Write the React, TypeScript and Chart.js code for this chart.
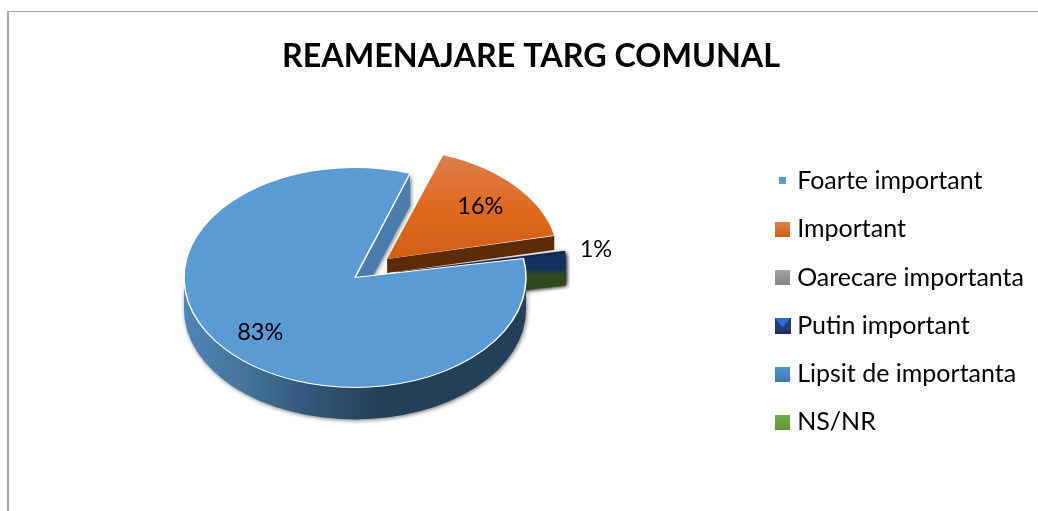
import React, { useEffect, useRef } from "react";
import { Chart, registerables } from "chart.js";

Chart.register(...registerables);

const chartTitle = "REAMENAJARE TARG COMUNAL";
const categories = ["Foarte important", "Important", "Oarecare importanta", "Putin important", "Lipsit de importanta", "NS/NR"];
const seriesValues = [83, 16.4, 0.3, 0.15, 0, 0.15];
const valueLabels = ["83%", "16%", "", "", "", "1%"];
const labelRadii = [0.73, 0.73, 0, 0, 0, 1.18];
const labelLift = [3, 1, 0, 0, 0, 0];
const explode = [0, 172, 172, 172, 172, 172];
const faceColors = ["#5b9bd5", "#d9691e", "#a5a5a5", "#1f3f7a", "#4a86bf", "#a5a5a5"];
const wallColors = ["#4a7dab", "#5c2b0a", "#555555", "#14305e", "#14305e", "#14305e"];

const CX = 355;
const CY = 277.5;
const TILT = 0.643;
const DEPTH = 32;
const ORANGE_DEPTH = 14;
const FONT = "Lato";

function swatch(i: number): HTMLCanvasElement {
  const c = document.createElement("canvas");
  const s = i === 0 ? 7 : i === 3 ? 16 : 15;
  c.width = s;
  c.height = s;
  const g = c.getContext("2d")!;
  const grad = (a: string, b: string) => {
    const l = g.createLinearGradient(0, 0, 0, s);
    l.addColorStop(0, a);
    l.addColorStop(1, b);
    return l;
  };
  if (i === 0) g.fillStyle = "#5b9bd5";
  if (i === 1) g.fillStyle = grad("#e08150", "#cf5f14");
  if (i === 2) g.fillStyle = grad("#a3a3a3", "#848484");
  if (i === 4) g.fillStyle = grad("#5393cf", "#3f7cb3");
  if (i === 5) g.fillStyle = grad("#72a94b", "#5c9732");
  if (i === 3) g.fillStyle = "#1f3f7a";
  g.fillRect(0, 0, s, s);
  if (i === 3) {
    g.fillStyle = "#2f6fd6";
    g.beginPath();
    g.moveTo(0, 0);
    g.lineTo(s, 0);
    g.lineTo(s / 2, s * 0.6);
    g.fill();
    g.fillStyle = "#16305f";
    g.fillRect(0, s - 3, s, 3);
  }
  return c;
}

const pie3d = {
  id: "pie3d",
  beforeDraw(chart: any) {
    const { ctx, width, height } = chart;
    ctx.save();
    ctx.fillStyle = "#ffffff";
    ctx.fillRect(0, 0, width, height);
    ctx.fillStyle = "#a6a6a6";
    ctx.fillRect(7, 11, 2, height - 11);
    ctx.fillRect(7, 11, width - 7, 1);
    ctx.restore();
  },
  beforeDatasetDraw() {
    return false;
  },
  beforeDatasetsDraw(chart: any) {
    const { ctx, chartArea } = chart;
    const arcs = chart.getDatasetMeta(0).data;
    const map = (arc: any) => {
      const mid = (arc.startAngle + arc.endAngle) / 2;
      const off = (arc.options.offset || 0) / 4;
      return { x: CX + Math.cos(mid) * off, y: CY + Math.sin(mid) * off * TILT };
    };
    const shadow = (on: boolean) => {
      ctx.shadowColor = on ? "rgba(0,0,0,0.55)" : "transparent";
      ctx.shadowBlur = on ? 4 : 0;
      ctx.shadowOffsetX = on ? 1 : 0;
      ctx.shadowOffsetY = on ? 1 : 0;
    };
    const cutWall = (arc: any, i: number, fill: any, depth: number) => {
      const c = map(arc);
      const a = arc.endAngle;
      const px = c.x + Math.cos(a) * arc.outerRadius;
      const py = c.y + Math.sin(a) * arc.outerRadius * TILT;
      ctx.fillStyle = fill || wallColors[i];
      ctx.beginPath();
      ctx.moveTo(c.x, c.y);
      ctx.lineTo(px, py);
      ctx.lineTo(px, py + depth);
      ctx.lineTo(c.x, c.y + depth);
      ctx.closePath();
      ctx.fill();
    };
    const drawFace = (arc: any) => {
      // Chart.js grows an offset arc's radius by offset * fix; cancel it so all slices keep one radius
      const off = (arc.options.offset || 0) / 4;
      const fix = 1 - Math.sin(Math.min(Math.PI, arc.circumference || 0));
      const keep = arc.outerRadius;
      arc.outerRadius = keep - off * fix;
      ctx.save();
      ctx.translate(CX, CY);
      ctx.scale(1, TILT);
      ctx.translate(-arc.x, -arc.y);
      arc.draw(ctx, chartArea);
      ctx.restore();
      arc.outerRadius = keep;
    };

    ctx.save();
    // small exploded slices, behind everything
    shadow(true);
    for (let i = 2; i < arcs.length; i++) {
      if (!seriesValues[i]) continue;
      const lg = ctx.createLinearGradient(0, CY - 24, 0, CY + 10);
      lg.addColorStop(0, "#14305e");
      lg.addColorStop(0.45, "#14305e");
      lg.addColorStop(0.62, "#2e4a1f");
      lg.addColorStop(1, "#2e4a1f");
      cutWall(arcs[i], i, lg, DEPTH);
    }
    shadow(false);
    for (let i = 2; i < arcs.length; i++) drawFace(arcs[i]);
    // orange wall
    cutWall(arcs[1], 1, null, ORANGE_DEPTH);
    // main wall: the cut and the rim
    const main = arcs[0];
    shadow(true);
    const rim = ctx.createLinearGradient(CX - 171, 0, CX + 171, 0);
    rim.addColorStop(0, "#4f86b8");
    rim.addColorStop(0.18, "#457399");
    rim.addColorStop(0.35, "#33597d");
    rim.addColorStop(0.58, "#243f58");
    rim.addColorStop(1, "#243f58");
    ctx.fillStyle = rim;
    ctx.beginPath();
    ctx.ellipse(CX, CY, main.outerRadius, main.outerRadius * TILT, 0, 0, Math.PI);
    ctx.ellipse(CX, CY + DEPTH, main.outerRadius, main.outerRadius * TILT, 0, Math.PI, 0, true);
    ctx.closePath();
    ctx.fill();
    cutWall(main, 0, null, DEPTH);
    shadow(false);
    drawFace(main);
    drawFace(arcs[1]);
    ctx.restore();
  },
  afterDatasetsDraw(chart: any) {
    const { ctx } = chart;
    const arcs = chart.getDatasetMeta(0).data;
    ctx.save();
    ctx.font = `23.5px ${FONT}`;
    ctx.fillStyle = "#000000";
    ctx.textAlign = "center";
    ctx.textBaseline = "middle";
    arcs.forEach((arc: any, i: number) => {
      if (!valueLabels[i]) return;
      const mid = (arc.startAngle + arc.endAngle) / 2;
      const off = (arc.options.offset || 0) / 4;
      const r = arc.outerRadius * labelRadii[i] + off;
      ctx.fillText(valueLabels[i], CX + Math.cos(mid) * r, CY + labelLift[i] + Math.sin(mid) * r * TILT);
    });
    ctx.restore();
  },
};

export default function App() {
  const ref = useRef<HTMLCanvasElement>(null);
  useEffect(() => {
    const chart = new Chart(ref.current!, {
      type: "pie",
      data: {
        labels: categories,
        datasets: [
          {
            data: seriesValues,
            offset: explode,
            backgroundColor: (c: any) => {
              const i = c.dataIndex;
              const area = c.chart.chartArea;
              if (i !== 1 || !area) return faceColors[i];
              const yc = (area.top + area.bottom) / 2;
              const g = c.chart.ctx.createLinearGradient(0, yc - 165, 0, yc);
              g.addColorStop(0, "#dd7f4c");
              g.addColorStop(0.55, "#df691f");
              g.addColorStop(1, "#cf5f15");
              return g;
            },
            borderColor: "#ffffff",
            borderWidth: [1.5, 0, 0, 0, 0, 0],
          } as any,
        ],
      },
      options: {
        responsive: false,
        animation: false,
        rotation: 80,
        radius: 171,
        layout: { padding: { top: 37, left: 28, right: 4, bottom: 0 } },
        plugins: {
          tooltip: { enabled: false },
          title: {
            display: true,
            text: chartTitle,
            color: "#000000",
            font: { family: FONT, size: 32.3, weight: "bold" },
            padding: { top: 0, bottom: 16.5 },
          },
          legend: {
            display: true,
            position: "right",
            fullSize: false,
            onClick: () => {},
            labels: {
              color: "#000000",
              font: { family: FONT, size: 25 },
              padding: 23.3,
              usePointStyle: true,
              pointStyleWidth: 4,
              boxHeight: 15,
              generateLabels: () =>
                categories.map((text, index) => ({
                  text,
                  index,
                  datasetIndex: 0,
                  hidden: false,
                  pointStyle: swatch(index),
                  fontColor: "#000000",
                  lineWidth: 0,
                })),
            },
          },
        },
      } as any,
      plugins: [pie3d as any],
    });
    return () => chart.destroy();
  }, []);
  return (
    <canvas
      ref={ref}
      width={1038}
      height={511}
      style={{ position: "fixed", left: 0, top: 0, width: 1038, height: 511, display: "block" }}
    />
  );
}
